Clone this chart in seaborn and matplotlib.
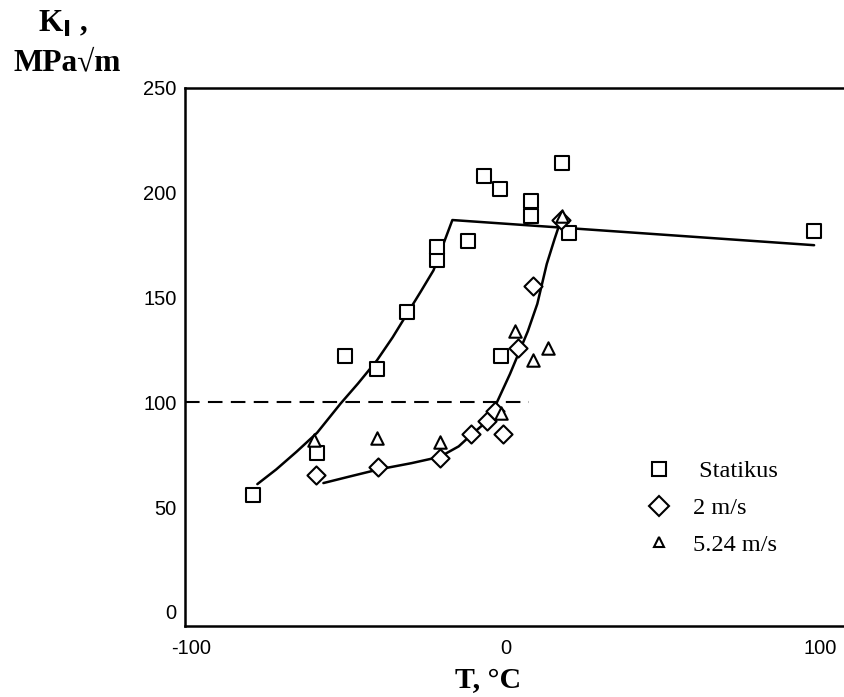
import numpy as np
import pandas as pd
import matplotlib
matplotlib.use("Agg")
import matplotlib.pyplot as plt
import seaborn as sns
from matplotlib.lines import Line2D

# ---- data ----
static_T = [-80.5, -60, -51, -41, -31.5, -22, -22, -12, -7, -2, 8, 8, 18, 20, -1.5, 98]
static_K = [56, 76, 122, 116, 143, 168, 174, 177, 208, 202, 196, 189, 214, 181, 122, 182]

v2_T = [-60.5, -40.5, -21, -11, -6, -1, -3.5, 4, 8.5, 17.5]
v2_K = [65.5, 69, 73.5, 85, 91, 85, 96, 126, 155.5, 187]

v524_T = [-61, -41, -21, -1.5, 3, 8.5, 13.5, 18]
v524_K = [82, 83, 81, 95, 134, 120, 126, 189]

# fitted curves
curve1_T = [-79, -73, -66.5, -60, -52.5, -47, -41, -36, -31.5, -27, -23, -19, -17, 98]
curve1_K = [61, 68, 76.5, 85.5, 99.5, 109, 120, 131, 142, 153, 163, 179, 187, 175]

curve2_T = [-58, -50, -40.5, -30, -21, -15, -11, -6, -3, 1.3, 4.5, 7, 10, 13, 15.5, 17.5]
curve2_K = [61.5, 64.5, 68, 71, 74, 79, 84.5, 91, 99.5, 113.5, 125, 134, 147, 166, 178, 187]

ref_T = [-102, 7.5]
ref_K = [100, 100]

series_labels = [" Statikus", "2 m/s", "5.24 m/s"]
x_ticks = [-100, -50, 0, 50, 100]
x_ticklabels = ["-100", "", "0", "", "100"]
y_ticks = [0, 50, 100, 150, 200, 250]

# ---- figure ----
sns.set_theme(style="white")
plt.rcParams["font.family"] = ["Liberation Sans", "DejaVu Sans"]
plt.rcParams["text.color"] = "black"
plt.rcParams["axes.labelcolor"] = "black"

fig = plt.figure(figsize=(8.44, 6.97), dpi=100)
ax = fig.add_axes([185/844, 71/697, 659/844, 538/697])

c1 = pd.DataFrame({"T": curve1_T, "K": curve1_K})
c2 = pd.DataFrame({"T": curve2_T, "K": curve2_K})
sns.lineplot(data=c1, x="T", y="K", ax=ax, color="black", lw=1.8, sort=False)
sns.lineplot(data=c2, x="T", y="K", ax=ax, color="black", lw=1.8, sort=False)
ax.plot(ref_T, ref_K, color="black", lw=1.5, dashes=(7, 4))

d1 = pd.DataFrame({"T": static_T, "K": static_K})
d2 = pd.DataFrame({"T": v2_T, "K": v2_K})
d3 = pd.DataFrame({"T": v524_T, "K": v524_K})
sns.scatterplot(data=d1, x="T", y="K", ax=ax, marker="s", s=115,
                facecolors="white", edgecolor="black", linewidth=1.5, zorder=3)
sns.scatterplot(data=d2, x="T", y="K", ax=ax, marker="D", s=85,
                facecolors="white", edgecolor="black", linewidth=1.5, zorder=3)
sns.scatterplot(data=d3, x="T", y="K", ax=ax, marker="^", s=80,
                facecolors="white", edgecolor="black", linewidth=1.5, zorder=4)

ax.set_xlim(-102, 107.5)
ax.set_ylim(-6.7, 250)
ax.set_xticks(x_ticks)
ax.set_xticklabels(x_ticklabels)
ax.set_yticks(y_ticks)
ax.tick_params(direction="in", length=8, width=1.3, colors="black",
               labelsize=14.5, pad=6)
ax.tick_params(axis="x", pad=9)
for s in ["left", "top", "bottom"]:
    ax.spines[s].set_color("black")
    ax.spines[s].set_linewidth(1.8)
ax.spines["right"].set_visible(False)
ax.set_xlabel("")
ax.set_ylabel("")

serif = ["Liberation Serif", "DejaVu Serif"]
fig.text(488/844, 1 - 681/697, "T, °C", family=serif, fontweight="bold",
         fontsize=21.5, ha="center", va="center", color="black")
fig.text(63/844, 1 - 24/697, r"K$_{\mathbf{I}}$ ,", family=serif, fontweight="bold",
         fontsize=22.5, ha="center", va="center", color="black")
fig.text(67/844, 1 - 63/697, "MPa√m", family=serif, fontweight="bold",
         fontsize=22.5, ha="center", va="center", color="black")

handles = [
    Line2D([], [], ls="none", marker="s", ms=10, mfc="white", mec="black", mew=1.5),
    Line2D([], [], ls="none", marker="D", ms=10, mfc="white", mec="black", mew=1.5),
    Line2D([], [], ls="none", marker="^", ms=7.5, mfc="white", mec="black", mew=1.5),
]
leg = ax.legend(handles, series_labels, loc="center left",
                bbox_to_anchor=((647 - 185)/659, (626 - 508)/538),
                bbox_transform=ax.transAxes, frameon=False,
                prop={"family": serif, "size": 17.5}, handlelength=1.0,
                handletextpad=0.9, labelspacing=0.6, borderpad=0.0,
                borderaxespad=0.0)
for t in leg.get_texts():
    t.set_color("black")

fig.savefig("out.png", dpi=100, facecolor="white")
